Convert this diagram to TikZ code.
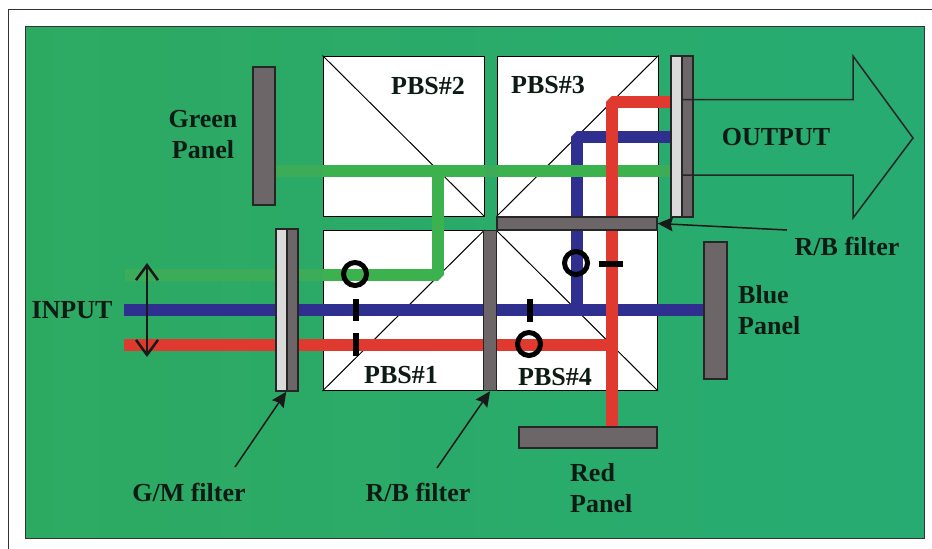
\documentclass[tikz,border=0pt]{standalone}
\usepackage{fontspec}
\setmainfont{Liberation Serif}
\usepackage{xcolor}
\usetikzlibrary{arrows.meta}
\definecolor{backcolor}{HTML}{2DAA62}
\definecolor{backcolor2}{HTML}{27AB72}
\definecolor{panelcolor}{HTML}{6C6668}
\definecolor{lightcolor}{HTML}{DADADA}
\definecolor{greencolor}{HTML}{3BB24E}
\definecolor{fadedcolor}{HTML}{3CAC58}
\definecolor{bluecolor}{HTML}{2E2F8E}
\definecolor{redcolor}{HTML}{E0392F}
\definecolor{textcolor}{HTML}{0E1A14}
\tikzset{
    cube/.style = {fill = white, draw, rectangle, inner sep = 0pt, line width = 1pt, minimum width = 161pt, minimum height = 160pt},
    panel/.style = {fill = panelcolor, draw = black!85, rectangle, inner sep = 0pt, line width = 1.5pt},
    lightstrip/.style = {panel, fill = lightcolor},
    beam/.style = {line width = 12pt, line join = bevel},
    label/.style = {text = textcolor, font = \bfseries\fontsize{26}{31}\selectfont, align = center, inner sep = 0pt},
    marker/.style = {draw = black, circle, inner sep = 0pt, line width = 5pt, minimum size = 23pt},
    tick/.style = {black, line width = 6pt},
    pointer/.style = {-{Stealth[length = 15pt, width = 14pt, inset = 2pt]}, line width = 1.5pt, color = black!90}
}

\begin{document}
\begin{tikzpicture}
        \useasboundingbox (0pt, 0pt) rectangle (932pt, -549pt);

        % Background
        \draw [black!80, line width = 1pt] (8pt, -549pt) -- (8pt, -9pt) -- (932pt, -9pt);
        \node [left color = backcolor, right color = backcolor2, draw = black!80, rectangle, inner sep = 0pt, line width = 1pt, minimum width = 899pt, minimum height = 512pt] (back) at (474.5pt, -282pt) {};

        % Nodes
        \node [cube] (pbs2) at (403.5pt, -136pt) {};
        \node [cube] (pbs3) at (577.5pt, -136pt) {};
        \node [cube] (pbs1) at (403.5pt, -310.5pt) {};
        \node [cube] (pbs4) at (577pt, -310.5pt) {};

        % Splitting planes
        \draw [line width = 1pt] (pbs2.north west) -- (pbs2.south east);
        \draw [line width = 1pt] (pbs3.south west) -- (pbs3.north east);
        \draw [line width = 1pt] (pbs1.south west) -- (pbs1.north east);
        \draw [line width = 1pt] (pbs4.north west) -- (pbs4.south east);

        % Beam corners
        \coordinate (greenin) at (125pt, -275pt);
        \coordinate (greenup) at (438pt, -275pt);
        \coordinate (greentop) at (438pt, -171pt);
        \coordinate (greenpanel) at (275pt, -171pt);
        \coordinate (greenout) at (671pt, -171pt);
        \coordinate (bluein) at (124pt, -310pt);
        \coordinate (bluepanel) at (704pt, -310pt);
        \coordinate (blueup) at (577pt, -310pt);
        \coordinate (bluetop) at (577pt, -137pt);
        \coordinate (blueout) at (671pt, -137pt);
        \coordinate (redin) at (124pt, -345pt);
        \coordinate (redcross) at (612pt, -345pt);
        \coordinate (redpanel) at (612pt, -427pt);
        \coordinate (redtop) at (612pt, -102pt);
        \coordinate (redout) at (671pt, -102pt);

        % Draw the beams
        \draw [beam, bluecolor] (bluein) -- (bluepanel);
        \draw [beam, bluecolor] (blueup) -- (bluetop) -- (blueout);
        \draw [beam, greencolor] (greenin) -- (greenup) -- (greentop);
        \draw [beam, greencolor] (greenpanel) -- (greenout);
        % Green is hard to see outside the cubes
        \draw [beam, fadedcolor] (greenin) -- (pbs1.west |- greenin);
        \draw [beam, fadedcolor] (greenpanel) -- (pbs2.west |- greenpanel);
        \draw [beam, fadedcolor] (pbs2.east |- greenpanel) -- (pbs3.west |- greenpanel);
        \draw [beam, fadedcolor] (pbs3.east |- greenpanel) -- (greenout);
        \draw [beam, redcolor] (redin) -- (redcross);
        \draw [beam, redcolor] (redpanel) -- (redtop) -- (redout);

        % Filters
        \node [panel, minimum width = 160pt, minimum height = 13pt] (rbtop) at (577pt, -223.5pt) {};
        \node [panel, minimum width = 13pt, minimum height = 160pt] (rbmid) at (490pt, -310.5pt) {};
        \node [lightstrip, minimum width = 11pt, minimum height = 162pt] (gmlight) at (281.5pt, -310pt) {};
        \node [panel, minimum width = 11pt, minimum height = 162pt] (gmdark) at (292.5pt, -310pt) {};
        \node [lightstrip, minimum width = 11pt, minimum height = 161pt] (outlight) at (676.5pt, -136.5pt) {};
        \node [panel, minimum width = 11pt, minimum height = 161pt] (outdark) at (687.5pt, -136.5pt) {};

        % Panels
        \node [panel, minimum width = 22pt, minimum height = 138pt] (greenbox) at (264pt, -136pt) {};
        \node [panel, minimum width = 23pt, minimum height = 137pt] (bluebox) at (715.5pt, -310.5pt) {};
        \node [panel, minimum width = 138pt, minimum height = 21pt] (redbox) at (588pt, -437.5pt) {};

        % Polarisation marks
        \node [marker] (circle1) at (355pt, -274pt) {};
        \node [marker] (circle2) at (576pt, -263pt) {};
        \node [marker] (circle3) at (529pt, -344pt) {};
        \draw [tick] (356pt, -299pt) -- (356pt, -321pt);
        \draw [tick] (356pt, -333pt) -- (356pt, -356pt);
        \draw [tick] (530pt, -299pt) -- (530pt, -322pt);
        \draw [tick] (599pt, -264pt) -- (623pt, -264pt);

        % Input and output arrows
        \coordinate (inputtop) at (147pt, -263pt);
        \coordinate (inputbottom) at (147pt, -357pt);
        \draw [{Straight Barb[length = 15pt, width = 22pt]}-{Straight Barb[length = 15pt, width = 22pt]}, line width = 2.5pt, black!90] (inputtop) -- (inputbottom);
        \draw [line width = 1.5pt, black!85] (outdark.west |- 0pt, -99.5pt) -- (853pt, -99.5pt) -- (853pt, -56pt) -- (913pt, -138pt) -- (853pt, -218pt) -- (853pt, -175pt) -- (outdark.west |- 0pt, -175pt);

        % Node Level
        \node [label] (pbs2text) at (428pt, -86pt) {PBS\#2};
        \node [label] (pbs3text) at (548pt, -85pt) {PBS\#3};
        \node [label] (pbs1text) at (401pt, -375pt) {PBS\#1};
        \node [label] (pbs4text) at (555pt, -377pt) {PBS\#4};
        \node [label] (greentext) at (203pt, -135pt) {Green\\Panel};
        \node [label, align = left, anchor = west] (bluetext) at (738pt, -310pt) {Blue\\Panel};
        \node [label, align = left, anchor = west] (redtext) at (570pt, -488pt) {Red\\Panel};
        \node [label] (inputtext) at (72pt, -310pt) {INPUT};
        \node [label] (outputtext) at (776pt, -137pt) {OUTPUT};
        \node [label] (gmtext) at (189pt, -492pt) {G/M filter};
        \node [label] (rbtext1) at (418pt, -492pt) {R/B filter};
        \node [label] (rbtext2) at (847pt, -246pt) {R/B filter};

        % Draw the links
        \coordinate (gmfoot) at (235pt, -467pt);
        \coordinate (rbfoot) at (437pt, -468pt);
        \coordinate (rbside) at (787pt, -230pt);
        \draw [pointer] (gmfoot) -- (gmdark.south west);
        \draw [pointer] (rbfoot) -- (rbmid.south);
        \draw [pointer] (rbside) -- (rbtop.east);

    \end{tikzpicture}
\end{document}
